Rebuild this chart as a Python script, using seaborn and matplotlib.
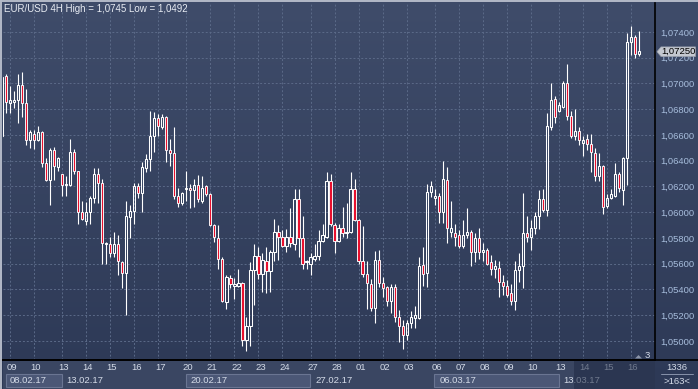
import matplotlib
matplotlib.use('Agg')  # no display

import matplotlib.pyplot as plt
import matplotlib.patches as mpatches
from matplotlib.colors import LinearSegmentedColormap
import numpy as np
import seaborn as sns

# EUR/USD 4H candles
opens = [1.0659, 1.0706, 1.0685, 1.0686, 1.0687, 1.0699, 1.0685, 1.0656, 1.0661, 1.0656,
         1.0662, 1.0638, 1.0625, 1.0648, 1.0635, 1.0630, 1.0621, 1.0621, 1.0647, 1.0632,
         1.0600, 1.0593, 1.0600, 1.0611, 1.0630, 1.0623, 1.0575, 1.0575, 1.0568, 1.0575,
         1.0561, 1.0553, 1.0596, 1.0601, 1.0620, 1.0615, 1.0634, 1.0641, 1.0659, 1.0673,
         1.0666, 1.0674, 1.0648, 1.0646, 1.0613, 1.0607, 1.0618, 1.0619, 1.0617, 1.0621,
         1.0609, 1.0620, 1.0614, 1.0590, 1.0580, 1.0564, 1.0530, 1.0549, 1.0543, 1.0543,
         1.0545, 1.0501, 1.0512, 1.0555, 1.0566, 1.0552, 1.0562, 1.0554, 1.0569, 1.0585,
         1.0581, 1.0574, 1.0581, 1.0575, 1.0610, 1.0580, 1.0561, 1.0560, 1.0564, 1.0566,
         1.0578, 1.0581, 1.0624, 1.0590, 1.0578, 1.0588, 1.0584, 1.0585, 1.0618, 1.0594,
         1.0562, 1.0552, 1.0544, 1.0526, 1.0563, 1.0545, 1.0542, 1.0531, 1.0542, 1.0519,
         1.0512, 1.0505, 1.0514, 1.0518, 1.0518, 1.0559, 1.0553, 1.0616, 1.0611, 1.0613,
         1.0600, 1.0625, 1.0585, 1.0584, 1.0582, 1.0574, 1.0582, 1.0585, 1.0569, 1.0580,
         1.0569, 1.0571, 1.0561, 1.0556, 1.0557, 1.0546, 1.0543, 1.0537, 1.0531, 1.0555,
         1.0558, 1.0584, 1.0581, 1.0588, 1.0597, 1.0610, 1.0602, 1.0666, 1.0688, 1.0679,
         1.0682, 1.0700, 1.0675, 1.0659, 1.0663, 1.0654, 1.0657, 1.0653, 1.0646, 1.0628,
         1.0636, 1.0605, 1.0611, 1.0613, 1.0630, 1.0617, 1.0642, 1.0732, 1.0736, 1.0723]
highs = [1.0707, 1.0707, 1.0698, 1.0694, 1.0707, 1.0709, 1.0696, 1.0664, 1.0664, 1.0667,
         1.0663, 1.0642, 1.0650, 1.0651, 1.0643, 1.0630, 1.0628, 1.0657, 1.0649, 1.0632,
         1.0609, 1.0608, 1.0613, 1.0634, 1.0634, 1.0626, 1.0577, 1.0581, 1.0585, 1.0582,
         1.0562, 1.0609, 1.0606, 1.0623, 1.0623, 1.0639, 1.0645, 1.0679, 1.0678, 1.0676,
         1.0676, 1.0675, 1.0657, 1.0666, 1.0619, 1.0616, 1.0632, 1.0622, 1.0626, 1.0629,
         1.0628, 1.0621, 1.0615, 1.0591, 1.0590, 1.0565, 1.0551, 1.0551, 1.0549, 1.0556,
         1.0546, 1.0519, 1.0561, 1.0575, 1.0573, 1.0568, 1.0573, 1.0571, 1.0595, 1.0590,
         1.0586, 1.0587, 1.0603, 1.0618, 1.0618, 1.0597, 1.0563, 1.0568, 1.0575, 1.0586,
         1.0591, 1.0631, 1.0630, 1.0592, 1.0591, 1.0604, 1.0607, 1.0631, 1.0626, 1.0595,
         1.0589, 1.0562, 1.0548, 1.0570, 1.0571, 1.0550, 1.0543, 1.0544, 1.0544, 1.0524,
         1.0516, 1.0516, 1.0523, 1.0527, 1.0565, 1.0573, 1.0622, 1.0624, 1.0618, 1.0615,
         1.0640, 1.0635, 1.0609, 1.0591, 1.0586, 1.0594, 1.0603, 1.0586, 1.0584, 1.0588,
         1.0576, 1.0572, 1.0567, 1.0563, 1.0562, 1.0551, 1.0547, 1.0544, 1.0562, 1.0568,
         1.0615, 1.0597, 1.0594, 1.0600, 1.0617, 1.0618, 1.0677, 1.0700, 1.0690, 1.0686,
         1.0702, 1.0715, 1.0679, 1.0680, 1.0666, 1.0659, 1.0661, 1.0661, 1.0650, 1.0646,
         1.0637, 1.0614, 1.0618, 1.0638, 1.0631, 1.0643, 1.0739, 1.0745, 1.0738, 1.0741]
lows = [1.0658, 1.0677, 1.0677, 1.0681, 1.0669, 1.0674, 1.0652, 1.0650, 1.0649, 1.0655,
        1.0635, 1.0624, 1.0606, 1.0625, 1.0632, 1.0613, 1.0613, 1.0620, 1.0630, 1.0591,
        1.0594, 1.0590, 1.0591, 1.0607, 1.0607, 1.0560, 1.0560, 1.0565, 1.0565, 1.0551,
        1.0541, 1.0520, 1.0580, 1.0591, 1.0611, 1.0600, 1.0631, 1.0632, 1.0647, 1.0659,
        1.0665, 1.0639, 1.0636, 1.0610, 1.0604, 1.0606, 1.0609, 1.0603, 1.0604, 1.0608,
        1.0607, 1.0613, 1.0589, 1.0577, 1.0556, 1.0530, 1.0525, 1.0541, 1.0533, 1.0542,
        1.0496, 1.0492, 1.0496, 1.0528, 1.0548, 1.0538, 1.0537, 1.0538, 1.0562, 1.0563,
        1.0573, 1.0569, 1.0573, 1.0571, 1.0565, 1.0556, 1.0556, 1.0551, 1.0562, 1.0563,
        1.0577, 1.0580, 1.0589, 1.0568, 1.0577, 1.0581, 1.0580, 1.0584, 1.0593, 1.0560,
        1.0550, 1.0525, 1.0523, 1.0514, 1.0542, 1.0534, 1.0527, 1.0522, 1.0515, 1.0499,
        1.0494, 1.0501, 1.0510, 1.0510, 1.0517, 1.0543, 1.0542, 1.0612, 1.0606, 1.0592,
        1.0592, 1.0576, 1.0581, 1.0574, 1.0572, 1.0572, 1.0580, 1.0558, 1.0561, 1.0564,
        1.0562, 1.0559, 1.0551, 1.0549, 1.0534, 1.0536, 1.0534, 1.0528, 1.0524, 1.0546,
        1.0541, 1.0577, 1.0571, 1.0583, 1.0587, 1.0600, 1.0597, 1.0664, 1.0669, 1.0678,
        1.0681, 1.0672, 1.0658, 1.0656, 1.0652, 1.0644, 1.0648, 1.0631, 1.0624, 1.0624,
        1.0599, 1.0603, 1.0610, 1.0612, 1.0616, 1.0606, 1.0621, 1.0722, 1.0720, 1.0721]
closes = [1.0705, 1.0686, 1.0687, 1.0687, 1.0699, 1.0685, 1.0656, 1.0662, 1.0656, 1.0662,
          1.0638, 1.0625, 1.0648, 1.0636, 1.0642, 1.0621, 1.0622, 1.0647, 1.0632, 1.0600,
          1.0595, 1.0600, 1.0611, 1.0630, 1.0623, 1.0576, 1.0576, 1.0568, 1.0575, 1.0562,
          1.0553, 1.0597, 1.0601, 1.0620, 1.0615, 1.0635, 1.0641, 1.0659, 1.0673, 1.0667,
          1.0674, 1.0648, 1.0646, 1.0613, 1.0607, 1.0615, 1.0619, 1.0617, 1.0621, 1.0610,
          1.0619, 1.0614, 1.0590, 1.0581, 1.0564, 1.0531, 1.0550, 1.0544, 1.0544, 1.0545,
          1.0501, 1.0512, 1.0555, 1.0566, 1.0552, 1.0563, 1.0554, 1.0569, 1.0585, 1.0581,
          1.0574, 1.0581, 1.0576, 1.0610, 1.0580, 1.0560, 1.0562, 1.0565, 1.0566, 1.0578,
          1.0582, 1.0624, 1.0591, 1.0578, 1.0588, 1.0584, 1.0585, 1.0618, 1.0594, 1.0562,
          1.0552, 1.0545, 1.0526, 1.0563, 1.0545, 1.0541, 1.0531, 1.0542, 1.0519, 1.0512,
          1.0505, 1.0514, 1.0519, 1.0520, 1.0558, 1.0552, 1.0616, 1.0620, 1.0613, 1.0600,
          1.0626, 1.0588, 1.0588, 1.0581, 1.0574, 1.0582, 1.0585, 1.0569, 1.0580, 1.0569,
          1.0571, 1.0560, 1.0556, 1.0558, 1.0546, 1.0543, 1.0536, 1.0531, 1.0555, 1.0558,
          1.0584, 1.0581, 1.0588, 1.0597, 1.0610, 1.0602, 1.0667, 1.0687, 1.0674, 1.0683,
          1.0700, 1.0675, 1.0659, 1.0663, 1.0656, 1.0656, 1.0653, 1.0647, 1.0628, 1.0636,
          1.0604, 1.0611, 1.0614, 1.0630, 1.0619, 1.0642, 1.0732, 1.0736, 1.0723, 1.0725]

# first candle of each trading day / week
day_labels = ["09", "10", "13", "14", "15", "16", "17", "20", "21", "22", "23", "24", "27",
              "28", "01", "02", "03", "06", "07", "08", "09", "10", "13", "14", "15", "16"]
day_starts = [2, 8, 15, 21, 27, 33, 39, 46, 52, 58, 64, 70, 77, 83, 89, 95, 101, 108, 114,
              120, 126, 132, 139, 145, 151, 157]
week_labels = ["08.02.17", "13.02.17", "20.02.17", "27.02.17", "06.03.17", "13.03.17"]
week_starts = [1, 15, 46, 77, 108, 139]

price_ticks = [1.050, 1.052, 1.054, 1.056, 1.058, 1.060, 1.062, 1.064, 1.066, 1.068,
               1.070, 1.072, 1.074]
last_price = 1.0725
title = "EUR/USD 4H High = 1,0745 Low = 1,0492"

sns.set_theme(style='dark')
plt.rcParams['font.family'] = ['Liberation Sans', 'DejaVu Sans']

W, H = 698, 389
FS = 6.8
TXT = '#d4dbe8'


def box(x0, y0, x1, y1):
    # pixel box (top-left origin) -> figure fraction rect
    return [x0 / W, 1 - y1 / H, (x1 - x0) / W, (y1 - y0) / H]


def fpt(x, y):
    return (x / W, 1 - y / H)


fig = plt.figure(figsize=(W / 100, H / 100), dpi=100)
fig.patch.set_facecolor('#3a4764')

# background gradient
bg = fig.add_axes([0, 0, 1, 1], zorder=-5)
cmap = LinearSegmentedColormap.from_list('bg', ['#3f4c6a', '#2d3956'])
bg.imshow(np.linspace(0, 1, 256).reshape(-1, 1), cmap=cmap, aspect='auto',
          extent=[0, 1, 0, 1])
bg.set_axis_off()

ax = fig.add_axes(box(3, 3, 655, 360))
ax.set_facecolor('none')
axb = fig.add_axes(box(3, 361, 655, 389), sharex=ax)
axb.set_facecolor('#3a4662')

o = np.array(opens)
h = np.array(highs)
l = np.array(lows)
c = np.array(closes)
x = np.arange(len(o))
up = c >= o
top = np.maximum(o, c)
bot = np.minimum(o, c)

ax.vlines(x, top, h, color='white', lw=0.8, zorder=3)
ax.vlines(x, l, bot, color='white', lw=0.8, zorder=3)
ax.bar(x[up], (top - bot)[up], bottom=bot[up], width=0.56, facecolor='none',
       edgecolor='white', linewidth=0.75, zorder=4)
ax.bar(x[~up], (top - bot)[~up], bottom=bot[~up], width=0.56, facecolor='#e8102e',
       edgecolor='white', linewidth=0.65, zorder=4)

ax.set_xlim(0.25, 162.97)
ax.set_ylim(1.048524, 1.076252)

ax.set_xticks(day_starts)
ax.set_yticks(price_ticks)
ax.set_yticklabels([f"{t:.5f}".replace('.', ',') for t in price_ticks])
ax.yaxis.tick_right()
ax.tick_params(axis='x', length=0, labelbottom=False)
ax.tick_params(axis='y', length=0, pad=3.5, labelsize=FS, labelcolor='#a7bddc')
ax.grid(True, color='#5b6a88', linestyle=(0, (2, 2)), lw=0.7)
for side in ['top', 'left']:
    ax.spines[side].set_visible(False)
for side in ['right', 'bottom']:
    ax.spines[side].set_color('black')
    ax.spines[side].set_linewidth(1.2)

# bottom time panel
axb.set_ylim(0, 1)
axb.tick_params(axis='both', length=0, labelbottom=False, labelleft=False)
axb.grid(False)
for s in axb.spines.values():
    s.set_visible(False)

for lab, s in zip(day_labels, day_starts):
    axb.text(s - 0.85, 0.77, lab, ha='left', va='center', fontsize=FS, color=TXT)

edges = week_starts + [163]
for i, lab in enumerate(week_labels):
    if i % 2 == 0:
        axb.add_patch(mpatches.Rectangle((edges[i] - 0.1, 0.08), edges[i + 1] - edges[i],
                                         0.46, facecolor='#4b5776', edgecolor='#6a7592',
                                         lw=0.8, zorder=1))
    x0 = edges[i] + 1.15 if i > 0 else edges[i] + 0.85
    axb.text(x0, 0.31, lab, ha='left', va='center', fontsize=FS, color=TXT, zorder=2)

# dimmed area at the right end of the time scale
axb.add_patch(mpatches.Rectangle((142.75, 0), 25, 1, facecolor='#1f2a44', alpha=0.55,
                                 zorder=5, lw=0))

# right lower corner box
fig.text(*fpt(677, 367.5), "1336", ha='center', va='center', fontsize=FS, color=TXT)
fig.text(*fpt(677, 381.5), ">163<", ha='center', va='center', fontsize=FS, color=TXT)
fig.add_artist(plt.Line2D([661 / W, 693 / W], [1 - 374 / H, 1 - 374 / H],
                          color='#8792aa', lw=0.7))
fig.add_artist(plt.Line2D([0, 1], [1 - 360.3 / H, 1 - 360.3 / H], color='black', lw=1.2))

# current price marker (covers the top of the 1,07200 label, as in the terminal)
pts = [fpt(657, 51.7), fpt(661, 46.9), fpt(695.5, 46.9), fpt(695.5, 56.5), fpt(661, 56.5)]
fig.add_artist(mpatches.Polygon(pts, closed=True, facecolor='#c4c8d0', edgecolor='#9aa0ac',
                                lw=0.5, zorder=10))
fig.text(*fpt(678.5, 51.8), f"{last_price:.5f}".replace('.', ','), ha='center', va='center',
         fontsize=FS, color='black', zorder=11)

# shift marker and counter at bottom right of the chart
tri = [fpt(635, 358.5), fpt(642, 358.5), fpt(638.5, 355)]
fig.add_artist(mpatches.Polygon(tri, closed=True, facecolor='#8b94a8', lw=0))
fig.text(*fpt(647.5, 355), "3", ha='center', va='center', fontsize=FS, color=TXT)

# title
fig.text(*fpt(3.5, 8.5), title, ha='left', va='center', fontsize=7.0, color='#e8ecf3')

# window frame
fig.add_artist(plt.Line2D([0, 1], [1 - 0.8 / H, 1 - 0.8 / H], color='#b4bac8', lw=1.4))
fig.add_artist(plt.Line2D([0.8 / W, 0.8 / W], [0, 1], color='#b4bac8', lw=1.4))

fig.savefig('out.png', dpi=100, facecolor=fig.get_facecolor())
plt.close(fig)
